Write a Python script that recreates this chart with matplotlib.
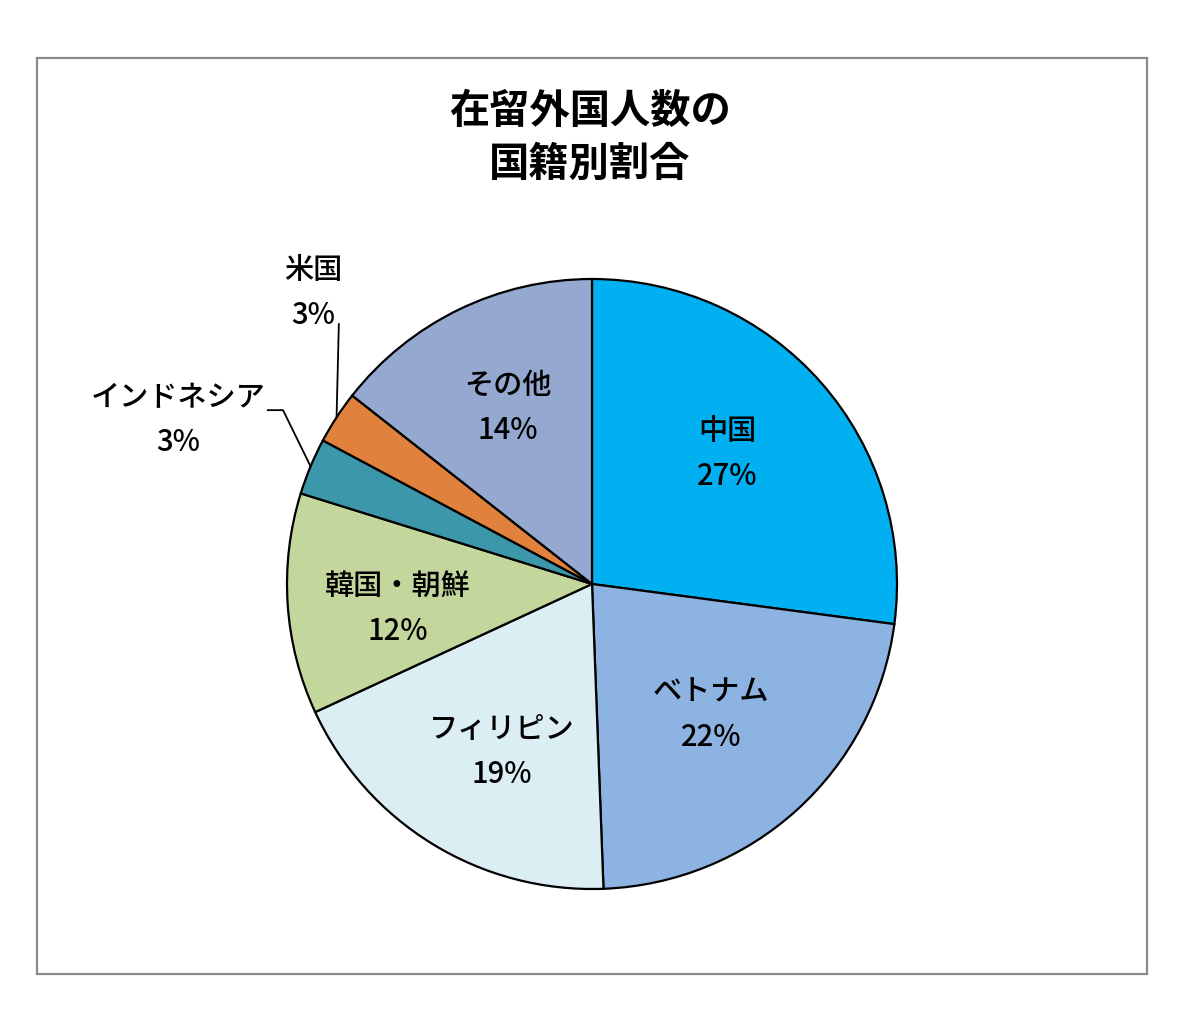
import matplotlib
matplotlib.use("Agg")
import matplotlib.pyplot as plt
from matplotlib.patches import Rectangle
import numpy as np

plt.rcParams['font.family'] = ['Noto Sans CJK JP', 'DejaVu Sans']

# ---- data ----
countries = ["中国", "ベトナム", "フィリピン", "韓国・朝鮮", "インドネシア", "米国", "その他"]
shares = [27.1, 22.3, 18.7, 11.7, 3.0, 2.8, 14.4]
pct_labels = ["27%", "22%", "19%", "12%", "3%", "3%", "14%"]
colors = ["#00B0F0", "#8DB3E2", "#DBEEF4", "#C3D69B", "#3D97AB", "#E0823D", "#95A9D0"]
title = "在留外国人数の\n国籍別割合"

# ---- layout (label positions in pie-radius units) ----
label_pos = [(0.443, 0.426), (0.390, -0.430), (-0.295, -0.551), (-0.636, -0.082),
             (-1.357, 0.538), (-0.915, 0.954), (-0.275, 0.577)]

W, H = 1200, 1022
fig = plt.figure(figsize=(W / 100, H / 100), dpi=100)

# outer border
fig.patches.append(Rectangle((37 / W, (H - 974) / H), 1110 / W, 916 / H,
                             transform=fig.transFigure, fill=False,
                             edgecolor="#8c8c8c", linewidth=1.6))

cx, cy, R = 592, 584, 305
ax = fig.add_axes([(cx - R) / W, (H - cy - R) / H, 2 * R / W, 2 * R / H])
wedges, _ = ax.pie(shares, colors=colors, startangle=90, counterclock=False,
                   radius=1.0,
                   wedgeprops=dict(edgecolor="black", linewidth=1.6))
ax.set_xlim(-1, 1)
ax.set_ylim(-1, 1)
ax.set_aspect("equal")
ax.axis("off")

for i, (name, pct) in enumerate(zip(countries, pct_labels)):
    x, y = label_pos[i]
    ax.text(x, y, f"{name}\n{pct}", ha="center", va="center", fontsize=21,
            fontweight="medium", linespacing=1.6, color="black", clip_on=False)

# leader lines for small slices
def mid_point(w):
    a = np.deg2rad((w.theta1 + w.theta2) / 2)
    return np.cos(a), np.sin(a)

# インドネシア
mx, my = mid_point(wedges[4])
ax.plot([-1.063, -1.013, mx], [0.570, 0.570, my], color="black", lw=1.3, clip_on=False)
# 米国
mx, my = mid_point(wedges[5])
ax.plot([-0.830, mx], [0.852, my], color="black", lw=1.3, clip_on=False)

fig.text(590 / W, 1 - 138 / H, title, ha="center", va="center", fontsize=29,
         fontweight="bold", linespacing=1.4)

fig.savefig("out.png", dpi=100)
